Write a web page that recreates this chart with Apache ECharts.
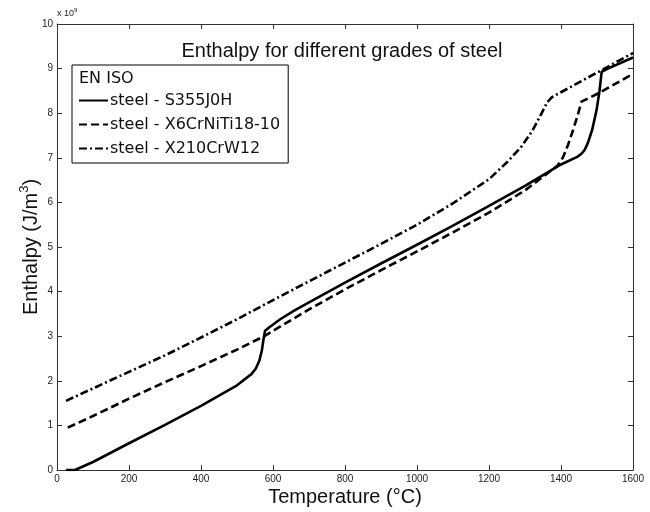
<!DOCTYPE html>
<html>
<head>
<meta charset="utf-8">
<script src="https://cdn.jsdelivr.net/npm/echarts@6/dist/echarts.min.js"></script>
<style>
html,body{margin:0;padding:0;background:#fff;}
#chart{width:650px;height:512px;}
</style>
</head>
<body>
<div id="chart"></div>
<script>
// Temperatures (°C) and enthalpy values (x 10^9 J/m^3)
var tS355 = [25, 50, 100, 200, 300, 400, 500, 540, 552, 562, 569, 574, 578, 590, 620, 660, 700, 800, 900, 1000, 1100, 1200, 1300, 1400, 1445, 1457, 1466, 1475, 1487, 1499, 1507, 1513, 1530, 1600];
var hS355 = [0, 0, 0.18, 0.6, 1.01, 1.44, 1.9, 2.15, 2.27, 2.45, 2.68, 2.95, 3.12, 3.2, 3.38, 3.58, 3.76, 4.2, 4.63, 5.05, 5.48, 5.92, 6.37, 6.85, 7.02, 7.09, 7.18, 7.34, 7.64, 8.08, 8.5, 8.93, 9.0, 9.25];

var tX6 = [30, 100, 200, 300, 400, 500, 578, 600, 700, 800, 900, 1000, 1100, 1200, 1300, 1390, 1405, 1420, 1435, 1448, 1457, 1500, 1600];
var hX6 = [0.95, 1.21, 1.6, 1.97, 2.33, 2.7, 3.01, 3.12, 3.6, 4.05, 4.48, 4.9, 5.33, 5.77, 6.27, 6.82, 7.0, 7.3, 7.66, 8.0, 8.26, 8.43, 8.88];

var tX210 = [25, 100, 200, 300, 400, 500, 600, 700, 800, 900, 1000, 1100, 1200, 1250, 1290, 1320, 1345, 1362, 1375, 1400, 1500, 1600];
var hX210 = [1.55, 1.83, 2.2, 2.57, 2.97, 3.38, 3.81, 4.23, 4.65, 5.07, 5.5, 5.98, 6.52, 6.9, 7.25, 7.6, 7.98, 8.25, 8.36, 8.47, 8.91, 9.35];

var seriesNames = ['steel - S355J0H', 'steel - X6CrNiTi18-10', 'steel - X210CrW12'];
var xTicks = [0, 200, 400, 600, 800, 1000, 1200, 1400, 1600];
var yTicks = [0, 1, 2, 3, 4, 5, 6, 7, 8, 9, 10];

function pairs(t, h) { return t.map(function (v, i) { return [v, h[i]]; }); }

var chart = echarts.init(document.getElementById('chart'), null, {renderer: 'canvas'});
var axisCol = '#333';
var tickFont = {fontFamily: '"Liberation Sans Narrow", "Liberation Sans", Arial, sans-serif', fontSize: 10, color: '#222'};
var plain = function (v) { return String(v); };

var option = {
  backgroundColor: '#fff',
  animation: false,
  title: [
    {
      text: 'Enthalpy for different grades of steel',
      left: 337, top: 36, textAlign: 'center',
      textStyle: {fontFamily: '"Liberation Sans", Arial, sans-serif', fontWeight: 'normal', fontSize: 20, color: '#111'}
    },
    {
      text: 'x 10{s|9}',
      left: 57, top: 7, padding: 0,
      textStyle: {fontFamily: '"Liberation Sans", Arial, sans-serif', fontWeight: 'normal', fontSize: 9, color: '#222', lineHeight: 14,
        rich: {s: {fontSize: 6, verticalAlign: 'top', lineHeight: 14, fontFamily: '"Liberation Sans", Arial, sans-serif', color: '#222'}}}
    },
    {
      text: 'EN ISO',
      left: 74, top: 66,
      textStyle: {fontFamily: '"DejaVu Sans", sans-serif', fontWeight: 'normal', fontSize: 16, color: '#111'}
    }
  ],
  legend: {
    data: seriesNames,
    orient: 'vertical',
    left: 72, top: 65,
    padding: [27, 8, 6, 6],
    itemGap: 7,
    itemWidth: 29, itemHeight: 14,
    borderColor: '#000', borderWidth: 1,
    backgroundColor: '#fff',
    itemStyle: {opacity: 0},
    textStyle: {fontFamily: '"DejaVu Sans", sans-serif', fontSize: 16, color: '#111', lineHeight: 17, padding: [0, 0, 0, -3]},
    selectedMode: false
  },
  grid: {left: 57, right: 17, top: 24, bottom: 38, containLabel: false},
  xAxis: [
    {
      type: 'value', min: 0, max: 1600, interval: 200,
      name: 'Temperature (°C)', nameLocation: 'middle', nameGap: 17, nameMoveOverlap: false,
      nameTextStyle: {fontFamily: '"Liberation Sans", Arial, sans-serif', fontSize: 20, color: '#111'},
      axisLine: {show: true, lineStyle: {color: axisCol, width: 1}},
      axisTick: {show: true, inside: true, length: 5, lineStyle: {color: axisCol}},
      axisLabel: Object.assign({margin: 4, formatter: plain}, tickFont),
      splitLine: {show: false}
    },
    {
      type: 'value', min: 0, max: 1600, interval: 200, position: 'top',
      axisLine: {show: true, onZero: false, lineStyle: {color: axisCol, width: 1}},
      axisTick: {show: true, inside: true, length: 5, lineStyle: {color: axisCol}},
      axisLabel: {show: false},
      splitLine: {show: false}
    }
  ],
  yAxis: [
    {
      type: 'value', min: 0, max: 10, interval: 1,
      name: 'Enthalpy (J/m{s|3})', nameLocation: 'middle', nameGap: 13, nameMoveOverlap: false,
      nameTextStyle: {fontFamily: '"Liberation Sans", Arial, sans-serif', fontSize: 20, color: '#111', lineHeight: 26,
        rich: {s: {fontSize: 13, verticalAlign: 'top', lineHeight: 26, fontFamily: '"Liberation Sans", Arial, sans-serif', color: '#111'}}},
      axisLine: {show: true, lineStyle: {color: axisCol, width: 1}},
      axisTick: {show: true, inside: true, length: 5, lineStyle: {color: axisCol}},
      axisLabel: Object.assign({margin: 4, formatter: plain}, tickFont),
      splitLine: {show: false}
    },
    {
      type: 'value', min: 0, max: 10, interval: 1, position: 'right',
      axisLine: {show: true, onZero: false, lineStyle: {color: axisCol, width: 1}},
      axisTick: {show: true, inside: true, length: 5, lineStyle: {color: axisCol}},
      axisLabel: {show: false},
      splitLine: {show: false}
    }
  ],
  series: [
    {
      name: seriesNames[0], type: 'line', data: pairs(tS355, hS355),
      symbol: 'none', smooth: false,
      lineStyle: {color: '#000', width: 2.6, type: 'solid', join: 'round'}, itemStyle: {color: '#000'}
    },
    {
      name: seriesNames[1], type: 'line', data: pairs(tX6, hX6),
      symbol: 'none', smooth: false,
      lineStyle: {color: '#000', width: 2.6, type: [8, 4], join: 'round'}, itemStyle: {color: '#000'}
    },
    {
      name: seriesNames[2], type: 'line', data: pairs(tX210, hX210),
      symbol: 'none', smooth: false,
      lineStyle: {color: '#000', width: 2.6, type: [8, 3, 2, 3], join: 'round'}, itemStyle: {color: '#000'}
    }
  ]
};
chart.setOption(option);
</script>
</body>
</html>
